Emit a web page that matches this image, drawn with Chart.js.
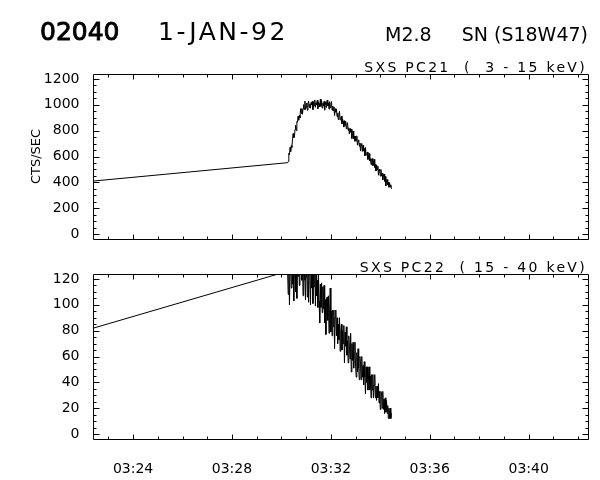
<!DOCTYPE html>
<html>
<head>
<meta charset="utf-8">
<script src="https://cdn.jsdelivr.net/npm/chart.js@4.4.1/dist/chart.umd.min.js"></script>
<style>
  body { margin: 0; background: #fff; }
  #wrap { position: relative; width: 600px; height: 480px; }
  canvas { position: absolute; left: 0; }
</style>
</head>
<body>
<div id="wrap">
  <canvas id="pc21" width="600" height="255" style="top:0"></canvas>
  <canvas id="pc22" width="600" height="225" style="top:255px"></canvas>
</div>
<script>
// time in minutes after 03:00 UT (data gap before 03:30:15)
const times = [22.400,
  30.250, 30.275, 30.300, 30.325, 30.350, 30.375, 30.400, 30.425,
  30.450, 30.475, 30.500, 30.525, 30.550, 30.575, 30.600, 30.625,
  30.650, 30.675, 30.700, 30.725, 30.750, 30.775, 30.800, 30.825,
  30.850, 30.875, 30.900, 30.925, 30.950, 30.975, 31.000, 31.025,
  31.050, 31.075, 31.100, 31.125, 31.150, 31.175, 31.200, 31.225,
  31.250, 31.275, 31.300, 31.325, 31.350, 31.375, 31.400, 31.425,
  31.450, 31.475, 31.500, 31.525, 31.550, 31.575, 31.600, 31.625,
  31.650, 31.675, 31.700, 31.725, 31.750, 31.775, 31.800, 31.825,
  31.850, 31.875, 31.900, 31.925, 31.950, 31.975, 32.000, 32.025,
  32.050, 32.075, 32.100, 32.125, 32.150, 32.175, 32.200, 32.225,
  32.250, 32.275, 32.300, 32.325, 32.350, 32.375, 32.400, 32.425,
  32.450, 32.475, 32.500, 32.525, 32.550, 32.575, 32.600, 32.625,
  32.650, 32.675, 32.700, 32.725, 32.750, 32.775, 32.800, 32.825,
  32.850, 32.875, 32.900, 32.925, 32.950, 32.975, 33.000, 33.025,
  33.050, 33.075, 33.100, 33.125, 33.150, 33.175, 33.200, 33.225,
  33.250, 33.275, 33.300, 33.325, 33.350, 33.375, 33.400, 33.425,
  33.450, 33.475, 33.500, 33.525, 33.550, 33.575, 33.600, 33.625,
  33.650, 33.675, 33.700, 33.725, 33.750, 33.775, 33.800, 33.825,
  33.850, 33.875, 33.900, 33.925, 33.950, 33.975, 34.000, 34.025,
  34.050, 34.075, 34.100, 34.125, 34.150, 34.175, 34.200, 34.225,
  34.250, 34.275, 34.300, 34.325, 34.350, 34.375, 34.400, 34.425,
  34.450];

// SXS PC21 (3 - 15 keV), cts/sec
const pc21 = [410,
  552, 562, 625, 613, 671, 638, 684, 671,
  737, 778, 746, 749, 809, 842, 800, 870,
  865, 913, 881, 918, 899, 970, 934, 972,
  927, 970, 1002, 964, 1029, 965, 982, 1014,
  958, 1010, 1030, 980, 1007, 974, 1019, 1000,
  1027, 963, 1023, 993, 1038, 981, 1016, 1000,
  1035, 971, 1020, 1009, 985, 1045, 989, 1032,
  975, 1013, 992, 1027, 959, 1023, 1004, 979,
  1036, 992, 1015, 967, 1025, 978, 1000, 1026,
  958, 989, 955, 985, 917, 970, 943, 968,
  910, 935, 886, 931, 950, 883, 888, 913,
  853, 889, 873, 828, 878, 840, 873, 814,
  838, 862, 802, 822, 774, 816, 788, 811,
  739, 786, 797, 737, 759, 718, 757, 719,
  760, 688, 714, 729, 680, 704, 642, 700,
  680, 639, 687, 642, 661, 605, 670, 611,
  613, 635, 577, 609, 623, 565, 582, 537,
  582, 584, 529, 537, 578, 515, 538, 488,
  533, 499, 526, 455, 501, 488, 448, 499,
  448, 471, 419, 445, 464, 408, 445, 373,
  418, 422, 381, 402, 362, 396, 363, 381,
  350];

// SXS PC22 (15 - 40 keV), cts/sec
const pc22 = [82,
  126, 108, 137, 100, 125, 134, 113, 140,
  116, 133, 103, 129, 138, 110, 126, 105,
  139, 122, 144, 115, 135, 142, 126, 119,
  138, 107, 134, 141, 119, 104, 143, 130,
  106, 129, 102, 132, 124, 100, 128, 113,
  128, 101, 123, 114, 130, 99, 126, 107,
  119, 98, 123, 103, 86, 116, 98, 117,
  94, 114, 97, 115, 86, 104, 77, 105,
  106, 88, 107, 78, 96, 113, 79, 95,
  76, 96, 83, 96, 66, 90, 96, 76,
  90, 70, 85, 73, 90, 64, 80, 85,
  65, 80, 70, 84, 55, 79, 68, 83,
  61, 72, 55, 76, 68, 58, 78, 48,
  70, 57, 71, 51, 63, 71, 52, 44,
  63, 48, 66, 51, 42, 60, 54, 42,
  60, 44, 53, 38, 56, 44, 31, 52,
  40, 52, 34, 45, 52, 34, 45, 28,
  46, 34, 46, 28, 38, 46, 28, 37,
  26, 37, 28, 39, 24, 33, 19, 33,
  31, 20, 33, 19, 27, 16, 28, 17,
  26, 16, 22, 12, 20, 12, 20, 12,
  16];

const timeLabels = [24, 28, 32, 36, 40];
const pc21Ticks = [0, 200, 400, 600, 800, 1000, 1200];
const pc22Ticks = [0, 20, 40, 60, 80, 100, 120];

const FONT = 'DejaVu Sans';

// box round the plot with inward ticks on all four sides, plus free text
const frame = {
  id: 'frame',
  afterDraw(chart, args, o) {
    const { ctx, chartArea: a } = chart;
    const xs = chart.scales.x, ys = chart.scales.y;
    const L = Math.floor(a.left) + 0.5, R = Math.floor(a.right) + 0.5;
    const T = Math.floor(a.top) + 0.5, B = Math.floor(a.bottom) + 0.5;
    ctx.save();
    ctx.strokeStyle = '#000';
    ctx.lineWidth = 1;
    ctx.beginPath();
    ctx.rect(L, T, R - L, B - T);
    for (let m = Math.ceil(xs.min); m <= xs.max; m++) {
      const px = Math.round(xs.getPixelForValue(m)) + 0.5;
      const len = m % 4 === 0 ? 5 : 3;
      ctx.moveTo(px, B); ctx.lineTo(px, B - len);
      ctx.moveTo(px, T); ctx.lineTo(px, T + len);
    }
    for (let v = 0; v <= ys.max; v += o.minor) {
      const py = Math.round(ys.getPixelForValue(v)) + 0.5;
      const len = v % o.major === 0 ? 6 : 3;
      ctx.moveTo(L, py); ctx.lineTo(L + len, py);
      ctx.moveTo(R, py); ctx.lineTo(R - len, py);
    }
    ctx.stroke();

    ctx.fillStyle = '#000';
    ctx.textBaseline = 'alphabetic';
    (o.texts || []).forEach(t => {
      ctx.font = t.size + 'px "' + FONT + '"';
      ctx.textAlign = t.align || 'left';
      ctx.letterSpacing = (t.spacing || 0) + 'px';
      ctx.fillText(t.text, t.x, t.y);
      if (t.heavy) { ctx.lineWidth = 0.9; ctx.strokeText(t.text, t.x, t.y); }
    });
    ctx.restore();
  }
};

function panel(id, values, yMin, yMax, yTicks, o) {
  return new Chart(document.getElementById(id), {
    type: 'line',
    data: {
      datasets: [{
        data: times.map((t, i) => ({ x: t, y: values[i] })),
        borderColor: '#000',
        borderWidth: 1,
        pointRadius: 0,
        tension: 0
      }]
    },
    options: {
      responsive: false,
      animation: false,
      devicePixelRatio: 1,
      layout: { padding: o.padding },
      plugins: {
        legend: { display: false },
        tooltip: { enabled: false },
        frame: { minor: o.minor, major: o.major, texts: o.texts }
      },
      scales: {
        x: {
          type: 'linear',
          min: 22.4,
          max: 42.4,
          display: o.showTime,
          afterFit(s) { if (o.showTime) s.height = 41; },
          afterBuildTicks(s) { s.ticks = timeLabels.map(v => ({ value: v })); },
          grid: { display: false },
          border: { display: false },
          ticks: {
            autoSkip: false,
            maxRotation: 0,
            padding: 14,
            color: '#000',
            font: { family: FONT, size: 14 },
            callback: v => '03:' + String(v).padStart(2, '0')
          }
        },
        y: {
          min: yMin,
          max: yMax,
          afterFit(s) { s.width = 93.5; },
          afterBuildTicks(s) { s.ticks = yTicks.map(v => ({ value: v })); },
          grid: { display: false },
          border: { display: false },
          ticks: {
            padding: 6,
            color: '#000',
            font: { family: FONT, size: 14 },
            callback: v => String(v)
          },
          title: {
            display: !!o.yTitle,
            text: o.yTitle,
            color: '#000',
            font: { family: FONT, size: 13 },
            padding: { top: 29, bottom: 0 }
          }
        }
      }
    },
    plugins: [frame]
  });
}

panel('pc21', pc21, -38.7, 1238.7, pc21Ticks, {
  padding: { top: 74, right: 12, bottom: 16, left: 0 },
  minor: 50, major: 200,
  showTime: false,
  yTitle: 'CTS/SEC',
  texts: [
    { text: '02040', x: 40, y: 40, size: 25, heavy: true },
    { text: '1-JAN-92', x: 158, y: 40, size: 25, spacing: 2.5 },
    { text: 'M2.8', x: 385, y: 41, size: 19 },
    { text: 'SN (S18W47)', x: 588, y: 41, size: 19, align: 'right' },
    { text: 'SXS PC21  (  3 - 15 keV)', x: 587, y: 72, size: 14, spacing: 2.3, align: 'right' }
  ]
});

panel('pc22', pc22, -3.87, 123.87, pc22Ticks, {
  padding: { top: 19, right: 12, bottom: 0, left: 0 },
  minor: 5, major: 20,
  showTime: true,
  texts: [
    { text: 'SXS PC22  ( 15 - 40 keV)', x: 587, y: 17, size: 14, spacing: 2.3, align: 'right' }
  ]
});
</script>
</body>
</html>
